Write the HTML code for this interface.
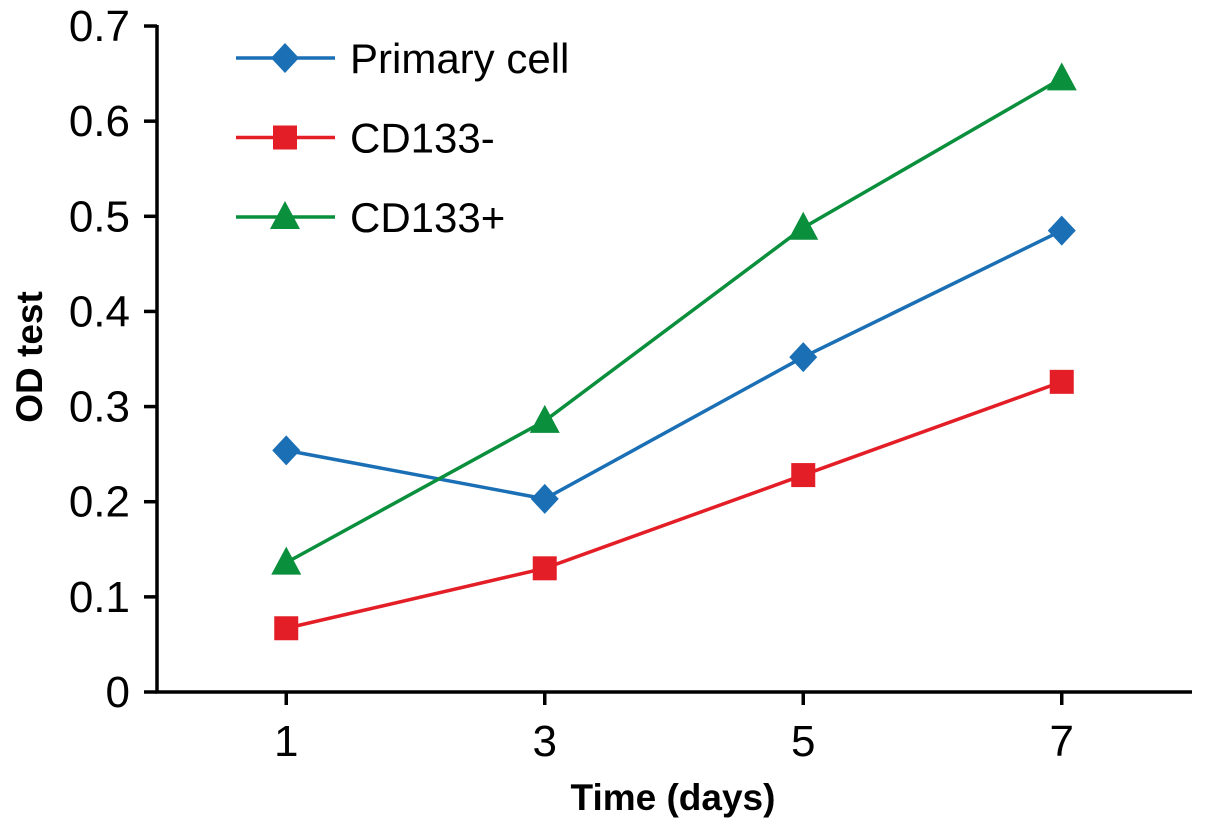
<!DOCTYPE html>
<html><head><meta charset="utf-8"><style>
body{margin:0;background:#fff}
svg{display:block;font-family:"Liberation Sans",Arial,sans-serif}
</style></head><body>
<svg id="chart" width="1205" height="829" viewBox="0 0 1205 829" xmlns="http://www.w3.org/2000/svg"></svg>
<script>
const days=[1,3,5,7];
const primary=[0.254,0.203,0.352,0.485];
const cd133neg=[0.067,0.130,0.228,0.326];
const cd133pos=[0.136,0.285,0.488,0.645];
const yTicks=[0,0.1,0.2,0.3,0.4,0.5,0.6,0.7];
const yTickLabels=["0","0.1","0.2","0.3","0.4","0.5","0.6","0.7"];
const xTickLabels=["1","3","5","7"];
const seriesNames=["Primary cell","CD133-","CD133+"];

const NS="http://www.w3.org/2000/svg";
const svg=document.getElementById('chart');
const X=d=>157+129.25*d;
const Y=v=>692-951.4*v;
function mk(tag,attrs,parent){const e=document.createElementNS(NS,tag);for(const k in attrs)e.setAttribute(k,attrs[k]);(parent||svg).appendChild(e);return e;}

const axes=mk('g',{});


const ya=mk('line',{x1:157,y1:25,x2:157,y2:693,stroke:'#000','stroke-width':3.5},axes);


const xa=mk('line',{x1:155.5,y1:692,x2:1192,y2:692,stroke:'#000','stroke-width':3.5},axes);


yTicks.forEach((v,i)=>{
  mk('line',{x1:144,y1:Y(v),x2:157,y2:Y(v),stroke:'#000','stroke-width':3.5},axes);
  const t=mk('text',{x:130,y:Y(v)+15,'text-anchor':'end','font-size':44},axes);
  t.textContent=yTickLabels[i];
  
  
});
days.forEach((d,i)=>{
  mk('line',{x1:X(d),y1:692,x2:X(d),y2:705,stroke:'#000','stroke-width':3.5},axes);
  const t=mk('text',{x:X(d),y:756,'text-anchor':'middle','font-size':44},axes);
  t.textContent=xTickLabels[i];
  
  
});
const xt=mk('text',{x:673,y:810,'text-anchor':'middle','font-size':37,'font-weight':'bold'});
xt.textContent='Time (days)';


const yt=mk('text',{x:0,y:0,'text-anchor':'middle','font-size':37,'font-weight':'bold',transform:'translate(42,357) rotate(-90)'});
yt.textContent='OD test';



function marker(g,type,cx,cy,color){
  if(type==='diamond')return mk('polygon',{points:`${cx},${cy-15} ${cx+14},${cy} ${cx},${cy+15} ${cx-14},${cy}`,fill:color},g);
  if(type==='square')return mk('rect',{x:cx-12,y:cy-12,width:24,height:24,fill:color},g);
  return mk('polygon',{points:`${cx},${cy-16} ${cx+15},${cy+12} ${cx-15},${cy+12}`,fill:color},g);
}
const series=[[primary,'#1a6fb5','diamond','series-primary-cell'],[cd133neg,'#e31e26','square','series-cd133-negative'],[cd133pos,'#0a8f3c','triangle','series-cd133-positive']];
series.forEach(([vals,color,type,name],si)=>{
  const g=mk('g',{});
  
  
  const pl=mk('polyline',{points:vals.map((v,i)=>X(days[i])+','+Y(v)).join(' '),fill:'none',stroke:color,'stroke-width':3.5},g);
  
  
  vals.forEach((v,i)=>{
    const m=marker(g,type,X(days[i]),Y(v),color);
    
    
  });
  const ly=58+79.5*si;
  const lg=mk('g',{});
  
  
  mk('line',{x1:236,y1:ly,x2:335,y2:ly,stroke:color,'stroke-width':3.5},lg);
  marker(lg,type,285,ly,color);
  const t=mk('text',{x:350,y:ly+15,'font-size':42},lg);
  t.textContent=seriesNames[si];
});
</script>
</body></html>
